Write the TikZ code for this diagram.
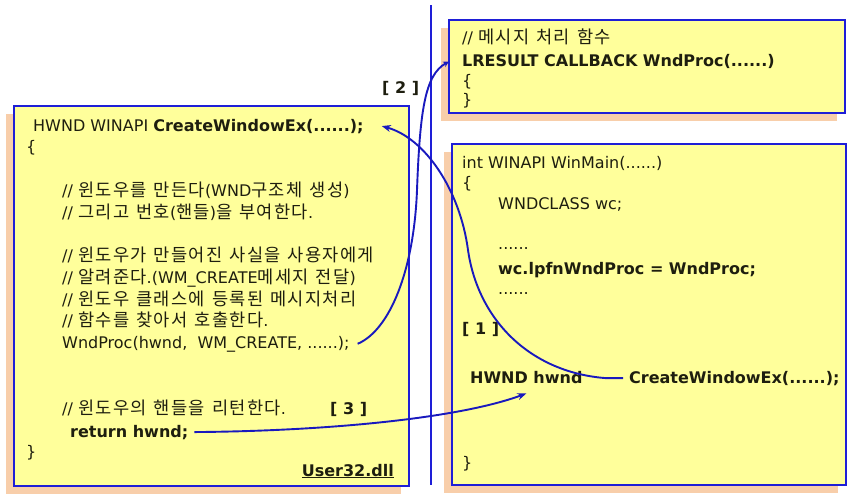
\documentclass[tikz,border=0pt]{standalone}
\usepackage{fontspec}
\setmainfont{DejaVu Sans}
\newfontfamily\krfont{Noto Sans CJK KR}[Scale=1.1,WordSpace=1.8]
\usetikzlibrary{arrows.meta,shadows}
\definecolor{boxyellow}{RGB}{255,255,155}
\definecolor{peach}{RGB}{248,206,170}
\definecolor{boxblue}{RGB}{30,30,215}
\definecolor{arrblue}{RGB}{25,25,190}
\definecolor{ink}{RGB}{30,30,15}
\newcommand\ko[1]{{\krfont #1}}
% extra tracking between Hangul syllables
\XeTeXinterchartokenstate=1
\count255="AC00
\loop
  \XeTeXcharclass\count255=7
  \ifnum\count255<"D7A3 \advance\count255 by 1
\repeat
\XeTeXinterchartoks 7 7 = {\hskip1.3pt\relax}
\begin{document}
\begin{tikzpicture}[x=1pt,y=-1pt,
  codebox/.style={draw=boxblue, line width=2pt, fill=boxyellow, inner sep=0pt, outer sep=0pt,
    anchor=north west, drop shadow={shadow xshift=-8pt, shadow yshift=-8pt, fill=peach, opacity=1}},
  txt/.style={anchor=base west, inner sep=0pt, text=ink, font=\fontsize{16}{19}\selectfont},
  btxt/.style={txt, font=\fontsize{16}{19}\selectfont\bfseries},
  arr/.style={draw=arrblue, line width=1.9pt, -{Stealth[length=9pt,width=7pt]}},
  divider/.style={draw=boxblue, line width=2pt}]
\useasboundingbox (0,0) rectangle (861,496);

% boxes
\node[codebox, minimum width=395pt, minimum height=380pt] (lbox) at (14,106) {};
\node[codebox, minimum width=396pt, minimum height=93pt] (tbox) at (449,20) {};
\node[codebox, minimum width=394pt, minimum height=341pt] (bbox) at (452,144) {};

% divider
\coordinate (dtop) at (431,5);
\coordinate (dbot) at (431,485);
\draw[divider] (dtop) -- (dbot);

% left box text
\node[txt] (hdr) at (33,131) {HWND WINAPI \textbf{CreateWindowEx(......);}};
\node[txt] (lb1) at (26,152) {\{};
\node[txt] (k1) at (62,196) {// \ko{윈도우를 만든다}(WND\ko{구조체 생성})};
\node[txt] (k2) at (62,218) {// \ko{그리고 번호}(\ko{핸들})\ko{을 부여한다}.};
\node[txt] (k3) at (62,261) {// \ko{윈도우가 만들어진 사실을 사용자에게}};
\node[txt] (k4) at (62,283) {// \ko{알려준다}.(WM\_CREATE\ko{메세지 전달})};
\node[txt] (k5) at (62,305) {// \ko{윈도우 클래스에 등록된 메시지처리}};
\node[txt] (k6) at (62,326) {// \ko{함수를 찾아서 호출한다}.};
\node[txt] (wp) at (62,348) {WndProc(hwnd,\ \ WM\_CREATE, ......);};
\node[txt] (k7) at (62,414) {// \ko{윈도우의 핸들을 리턴한다}.};
\node[btxt] (l3) at (330,414) {[ 3 ]};
\node[btxt] (ret) at (70,437) {return hwnd;};
\node[txt] (rb1) at (26,457) {\}};
\node[btxt, anchor=base east] (dll) at (394,476) {\underline{User32.dll}};

\node[btxt] (l2) at (382,93) {[ 2 ]};

% top right box text
\node[txt] (k8) at (462,43) {// \ko{메시지 처리 함수}};
\node[btxt] (lr) at (462,66) {LRESULT CALLBACK WndProc(......)};
\node[txt] (lb2) at (462,86) {\{};
\node[txt] (rb2) at (462,105) {\}};

% bottom right box text
\node[txt] (wm) at (462,168) {int WINAPI WinMain(......)};
\node[txt] (lb3) at (462,188) {\{};
\node[txt] (wc) at (498,209) {WNDCLASS wc;};
\node[txt] (d1) at (498,249) {......};
\node[btxt] (lpfn) at (498,274) {wc.lpfnWndProc = WndProc;};
\node[txt] (d2) at (498,294) {......};
\node[btxt] (l1) at (462,334) {[ 1 ]};
\node[btxt] (hh) at (470,383) {HWND hwnd};
\node[btxt] (cw) at (629,383) {CreateWindowEx(......);};
\node[txt] (rb3) at (462,468) {\}};

% connectors
\draw[arr] ([xshift=-6pt]cw.west) -- ++(-18,0)
  .. controls (530,372) and (478,320) .. (468,250)
  .. controls (460,190) and (425,138) .. ([xshift=18pt]hdr.east);
\draw[arr, -{Stealth[length=6pt,width=6pt]}] ([xshift=8pt]wp.east)
  .. controls (390,330) and (414,270) .. (417,190)
  .. controls (420,110) and (425,75) .. ([yshift=5pt]tbox.west);
\draw[arr] ([xshift=6pt]ret.east)
  .. controls (330,431) and (460,418) .. ([yshift=-10pt]hh.south);
\end{tikzpicture}
\end{document}
